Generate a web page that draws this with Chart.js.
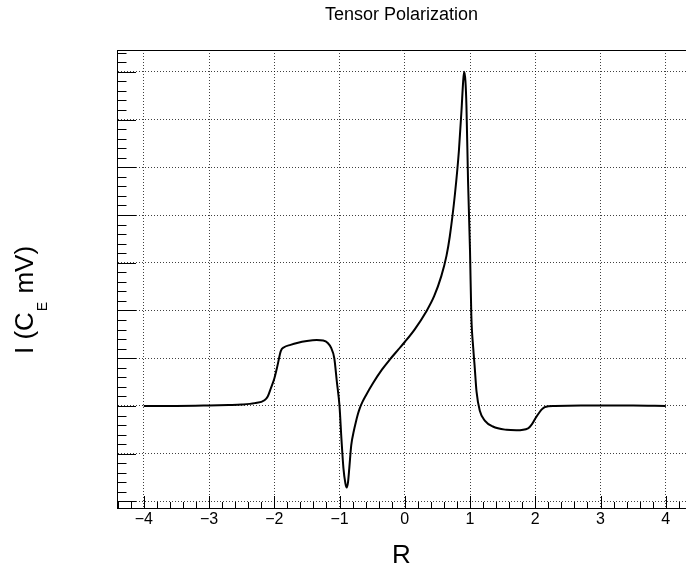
<!DOCTYPE html>
<html>
<head>
<meta charset="utf-8">
<script src="https://cdn.jsdelivr.net/npm/chart.js@4"></script>
<style>
html, body { margin: 0; padding: 0; background: #fff; }
#wrap { width: 686px; height: 574px; position: relative; }
</style>
</head>
<body>
<div id="wrap"><canvas id="c"></canvas></div>
<script>
// ---- data ----
const xValues = [
  -4.0, -3.5, -3.0, -2.7, -2.5, -2.3, -2.15, -2.1, -2.05, -2.0,
  -1.95, -1.9, -1.85, -1.75, -1.65, -1.5, -1.35, -1.25, -1.18, -1.13,
  -1.08, -1.04, -1.0, -0.97, -0.94, -0.91, -0.89, -0.87, -0.85, -0.82,
  -0.78, -0.75, -0.72, -0.69, -0.65, -0.6, -0.49, -0.35, -0.23, -0.1,
  0.0, 0.15, 0.33, 0.45, 0.56, 0.64, 0.69, 0.77, 0.83, 0.87,
  0.895, 0.91, 0.93, 0.945, 0.97, 1.0, 1.02, 1.05, 1.07, 1.1,
  1.15, 1.23, 1.35, 1.56, 1.71, 1.89, 1.95, 2.01, 2.1, 2.15,
  2.3, 2.7, 3.5, 4.0
];
const yValues = [
  0.0, 0.0, 0.01, 0.02, 0.03, 0.06, 0.12, 0.2, 0.38, 0.57,
  0.85, 1.15, 1.23, 1.28, 1.32, 1.36, 1.38, 1.37, 1.32, 1.22,
  1.0, 0.5, 0.0, -0.7, -1.3, -1.62, -1.71, -1.6, -1.3, -0.82,
  -0.52, -0.34, -0.18, -0.05, 0.08, 0.21, 0.47, 0.76, 0.97, 1.18,
  1.34, 1.6, 1.98, 2.3, 2.72, 3.15, 3.55, 4.45, 5.35, 6.2,
  6.8, 7.0, 6.8, 6.3, 4.7, 3.25, 1.9, 1.2, 0.85, 0.3,
  -0.1, -0.31, -0.43, -0.5, -0.51, -0.47, -0.38, -0.24, -0.07, -0.02,
  0.0, 0.01, 0.01, 0.0
];
const xTickValues = [-4, -3, -2, -1, 0, 1, 2, 3, 4];
const xTickLabels = ['\u22124', '\u22123', '\u22122', '\u22121', '0', '1', '2', '3', '4'];
const yTickValues = [-2, -1, 0, 1, 2, 3, 4, 5, 6, 7];
const titleText = 'Tensor Polarization';
const xTitleText = 'R';
const yTitleParts = ['I (C', 'E', ' mV)'];

const FONT = "'Liberation Sans', Arial, Helvetica, sans-serif";

const points = xValues.map((x, i) => ({ x: x, y: yValues[i] }));

// draws ROOT-like inner tick marks, the top frame line and the y title
const rootFrame = {
  id: 'rootFrame',
  afterDraw(chart) {
    const ctx = chart.ctx;
    const xs = chart.scales.x, ys = chart.scales.y;
    const a = chart.chartArea;
    ctx.save();
    ctx.strokeStyle = '#000';
    ctx.lineWidth = 1;
    ctx.beginPath();
    const xMinorStep = 0.2;
    for (let k = Math.ceil(xs.min / xMinorStep); k * xMinorStep <= xs.max + 1e-9; k++) {
      const v = k * xMinorStep;
      const px = Math.round(xs.getPixelForValue(v)) + 0.5;
      const major = Math.abs(v - Math.round(v)) < 1e-6;
      const len = major ? 12 : 6;
      ctx.moveTo(px, a.bottom);
      ctx.lineTo(px, a.bottom - len);
    }
    const yMinorStep = 0.2;
    for (let k = Math.ceil(ys.min / yMinorStep); k * yMinorStep <= ys.max + 1e-9; k++) {
      const v = k * yMinorStep;
      const py = Math.round(ys.getPixelForValue(v)) + 0.5;
      const major = Math.abs(v - Math.round(v)) < 1e-6;
      const len = major ? 19 : 9.5;
      ctx.moveTo(a.left, py);
      ctx.lineTo(a.left + len, py);
    }
    ctx.stroke();
    ctx.beginPath();
    ctx.moveTo(a.left, a.top + 0.5);
    ctx.lineTo(a.right, a.top + 0.5);
    ctx.stroke();

    // y axis title with subscript
    ctx.fillStyle = '#000';
    const mainFont = '26px ' + FONT;
    const subFont = '14px ' + FONT;
    ctx.font = mainFont;
    const w0 = ctx.measureText(yTitleParts[0]).width;
    const w2 = ctx.measureText(yTitleParts[2]).width;
    ctx.font = subFont;
    const w1 = ctx.measureText(yTitleParts[1]).width;
    const total = w0 + w1 + w2;
    ctx.translate(33, 301);
    ctx.rotate(-Math.PI / 2);
    ctx.textBaseline = 'alphabetic';
    ctx.textAlign = 'left';
    const x0 = -total / 2;
    ctx.font = mainFont;
    ctx.fillText(yTitleParts[0], x0, 0);
    ctx.font = subFont;
    ctx.fillText(yTitleParts[1], x0 + w0 + 1, 14);
    ctx.font = mainFont;
    ctx.fillText(yTitleParts[2], x0 + w0 + w1 + 2, 0);
    ctx.restore();
  }
};

new Chart(document.getElementById('c'), {
  type: 'scatter',
  data: {
    datasets: [{
      data: points,
      showLine: true,
      borderColor: '#000',
      borderWidth: 2,
      pointRadius: 0,
      fill: false,
      cubicInterpolationMode: 'monotone'
    }]
  },
  options: {
    responsive: true,
    maintainAspectRatio: false,
    animation: false,
    devicePixelRatio: 1,
    layout: { padding: { left: 117, right: 0, top: 0, bottom: 3 } },
    plugins: {
      legend: { display: false },
      tooltip: { enabled: false },
      title: {
        display: true,
        text: titleText,
        color: '#000',
        font: { family: FONT, size: 18, weight: 'normal' },
        padding: { top: 4, bottom: 24.4 }
      }
    },
    scales: {
      x: {
        type: 'linear',
        min: -4.41,
        max: 4.31,
        afterBuildTicks: (scale) => { scale.ticks = xTickValues.map(v => ({ value: v })); },
        ticks: {
          color: '#000',
          font: { family: FONT, size: 16 },
          padding: 2,
          maxRotation: 0,
          autoSkip: false,
          callback: (value) => {
            const i = xTickValues.indexOf(value);
            return i >= 0 ? xTickLabels[i] : '';
          }
        },
        grid: { color: 'rgba(0,0,0,0.75)', lineWidth: 1, drawTicks: false },
        border: { display: true, color: '#000', width: 1, dash: [1, 2] },
        title: {
          display: true,
          text: xTitleText,
          color: '#000',
          font: { family: FONT, size: 26 },
          padding: { top: 8.6, bottom: 0 }
        }
      },
      y: {
        type: 'linear',
        min: -2.137,
        max: 7.456,
        afterBuildTicks: (scale) => { scale.ticks = yTickValues.map(v => ({ value: v })); },
        ticks: { display: false },
        grid: { color: 'rgba(0,0,0,0.75)', lineWidth: 1, drawTicks: false },
        border: { display: true, color: '#000', width: 1, dash: [1, 2] },
        title: { display: false }
      }
    }
  },
  plugins: [rootFrame]
});
</script>
</body>
</html>
